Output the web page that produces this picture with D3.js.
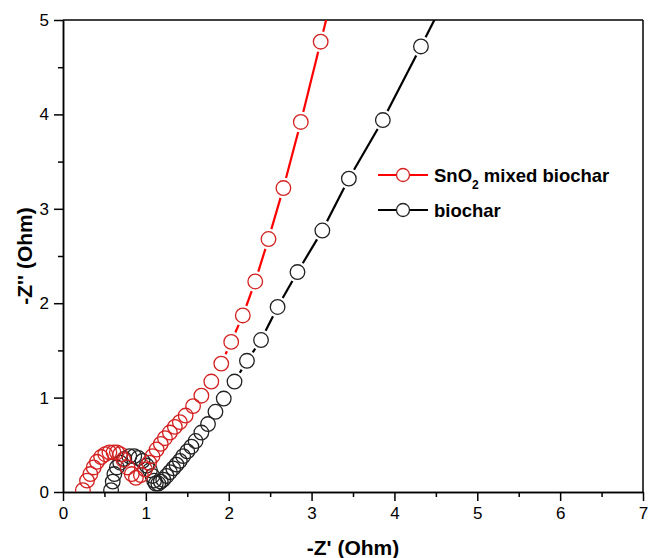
<!DOCTYPE html>
<html>
<head>
<meta charset="utf-8">
<script src="https://cdn.jsdelivr.net/npm/d3@7"></script>
<style>
  body { margin: 0; background: #fff; }
  svg { display: block; font-family: "Liberation Sans", Arial, sans-serif; }
  .axis path, .axis line { stroke: #000; stroke-width: 1.5px; }
  .axis text { font-size: 17px; fill: #000; }
</style>
</head>
<body>
<div id="chart"></div>
<script>
// SnO2 mixed biochar (Nyquist), Z' and -Z''
const snoX = [0.24, 0.29, 0.33, 0.37, 0.41, 0.46, 0.51, 0.56, 0.61, 0.65, 0.69, 0.73, 0.78, 0.83, 0.88,
  0.94, 0.99, 1.04, 1.08, 1.13, 1.18, 1.23, 1.29, 1.35, 1.41, 1.48, 1.57, 1.67, 1.79, 1.91, 2.03,
  2.17, 2.32, 2.48, 2.66, 2.87, 3.11, 3.38];
const snoY = [0.02, 0.12, 0.19, 0.26, 0.32, 0.37, 0.40, 0.42, 0.42, 0.42, 0.40, 0.34, 0.26, 0.19, 0.15,
  0.18, 0.24, 0.31, 0.38, 0.45, 0.51, 0.57, 0.63, 0.69, 0.74, 0.81, 0.91, 1.02, 1.17, 1.36, 1.59,
  1.87, 2.23, 2.68, 3.22, 3.92, 4.77, 5.72];

// biochar
const bioX = [0.58, 0.60, 0.62, 0.65, 0.69, 0.74, 0.80, 0.86, 0.91, 0.96, 1.01, 1.05, 1.08, 1.10, 1.12,
  1.15, 1.18, 1.21, 1.25, 1.29, 1.33, 1.37, 1.41, 1.45, 1.50, 1.55, 1.60, 1.67, 1.75, 1.84, 1.94,
  2.07, 2.22, 2.39, 2.59, 2.83, 3.13, 3.45, 3.86, 4.32, 4.80];
const bioY = [0.02, 0.11, 0.19, 0.26, 0.31, 0.35, 0.38, 0.38, 0.36, 0.33, 0.28, 0.23, 0.17, 0.12, 0.09,
  0.09, 0.11, 0.13, 0.17, 0.21, 0.25, 0.29, 0.33, 0.38, 0.43, 0.48, 0.54, 0.63, 0.72, 0.85, 0.99,
  1.17, 1.39, 1.61, 1.96, 2.33, 2.77, 3.32, 3.94, 4.72, 5.55];

const xTicks = [0, 1, 2, 3, 4, 5, 6, 7];
const yTicks = [0, 1, 2, 3, 4, 5];
const xMinor = [0.5, 1.5, 2.5, 3.5, 4.5, 5.5, 6.5];
const yMinor = [0.5, 1.5, 2.5, 3.5, 4.5];

const seriesNames = ["SnO\u2082 mixed biochar", "biochar"];

const W = 648, H = 558;
const margin = {top: 20, right: 5, bottom: 66, left: 63};
const width = W - margin.left - margin.right,
  height = H - margin.top - margin.bottom;

const svg = d3.select("#chart").append("svg")
  .attr("width", W).attr("height", H);
const g = svg.append("g")
  .attr("transform", "translate(" + margin.left + "," + margin.top + ")");

const x = d3.scaleLinear().domain([0, 7]).range([0, width]);
const y = d3.scaleLinear().domain([0, 5]).range([height, 0]);

g.append("defs").append("clipPath").attr("id", "clip")
  .append("rect").attr("width", width).attr("height", height);

// minor ticks
g.append("g").attr("class", "axis")
  .attr("transform", "translate(0," + height + ")")
  .call(d3.axisBottom(x).tickValues(xMinor).tickSize(5).tickSizeOuter(0).tickFormat(""));
g.append("g").attr("class", "axis")
  .call(d3.axisLeft(y).tickValues(yMinor).tickSize(5).tickSizeOuter(0).tickFormat(""));

// major ticks
g.append("g").attr("class", "axis")
  .attr("transform", "translate(0," + height + ")")
  .call(d3.axisBottom(x).tickValues(xTicks).tickSize(9).tickSizeOuter(0).tickPadding(6).tickFormat(d3.format("d")));
g.append("g").attr("class", "axis")
  .call(d3.axisLeft(y).tickValues(yTicks).tickSize(9).tickSizeOuter(0).tickPadding(5).tickFormat(d3.format("d")));
g.selectAll(".axis text").attr("font-family", "Liberation Sans, Arial, sans-serif");

// top & right frame
g.append("line").attr("x1", 0).attr("x2", width).attr("y1", 0).attr("y2", 0)
  .attr("stroke", "#000").attr("stroke-width", 1.5);
g.append("line").attr("x1", width).attr("x2", width).attr("y1", 0).attr("y2", height)
  .attr("stroke", "#000").attr("stroke-width", 1.5);

const r = 7.3, gap = 3;

function drawSeries(xs, ys, lineColor, markColor) {
  const pts = xs.map((v, i) => [x(v), y(ys[i])]);
  const layer = g.append("g").attr("clip-path", "url(#clip)");
  // connecting segments, stopped short of the markers
  for (let i = 0; i < pts.length - 1; i++) {
    const [x0, y0] = pts[i], [x1, y1] = pts[i + 1];
    const len = Math.hypot(x1 - x0, y1 - y0);
    const cut = r + gap;
    if (len <= 2 * cut) continue;
    const ux = (x1 - x0) / len, uy = (y1 - y0) / len;
    layer.append("line")
      .attr("x1", x0 + ux * cut).attr("y1", y0 + uy * cut)
      .attr("x2", x1 - ux * cut).attr("y2", y1 - uy * cut)
      .attr("stroke", lineColor).attr("stroke-width", 2.2);
  }
  layer.selectAll(null)
    .data(pts)
    .enter()
    .append("circle")
    .attr("cx", d => d[0]).attr("cy", d => d[1]).attr("r", r)
    .attr("fill", "none").attr("stroke", markColor).attr("stroke-width", 1.3);
}

drawSeries(bioX, bioY, "#000", "#222");
drawSeries(snoX, snoY, "#ff0000", "#d42020");

// axis titles
svg.append("text")
  .attr("x", margin.left + width / 2).attr("y", 555)
  .attr("text-anchor", "middle")
  .style("font-size", "21px").style("font-weight", "bold")
  .text("-Z' (Ohm)");
svg.append("text")
  .attr("transform", "translate(32," + (margin.top + height / 2) + ")rotate(-90)")
  .attr("text-anchor", "middle")
  .style("font-size", "21px").style("font-weight", "bold")
  .text("-Z'' (Ohm)");

// legend
const legend = svg.append("g");
const legendItems = [
  {name: seriesNames[0], line: "#ff0000", mark: "#d42020", y: 175},
  {name: seriesNames[1], line: "#000", mark: "#222", y: 210}
];
legendItems.forEach(item => {
  legend.append("line").attr("x1", 378).attr("x2", 428)
    .attr("y1", item.y).attr("y2", item.y)
    .attr("stroke", item.line).attr("stroke-width", 2.2);
  legend.append("circle").attr("cx", 403).attr("cy", item.y).attr("r", 6.5)
    .attr("fill", "#fff").attr("stroke", item.mark).attr("stroke-width", 1.3);
});
const t1 = legend.append("text").attr("x", 434).attr("y", 182)
  .style("font-size", "18.5px").style("font-weight", "bold");
t1.append("tspan").text("SnO");
t1.append("tspan").attr("dy", 7).style("font-size", "12px").text("2");
t1.append("tspan").attr("dy", -7).text(" mixed biochar");
legend.append("text").attr("x", 434).attr("y", 217)
  .style("font-size", "18.5px").style("font-weight", "bold")
  .text(seriesNames[1]);
</script>
</body>
</html>
